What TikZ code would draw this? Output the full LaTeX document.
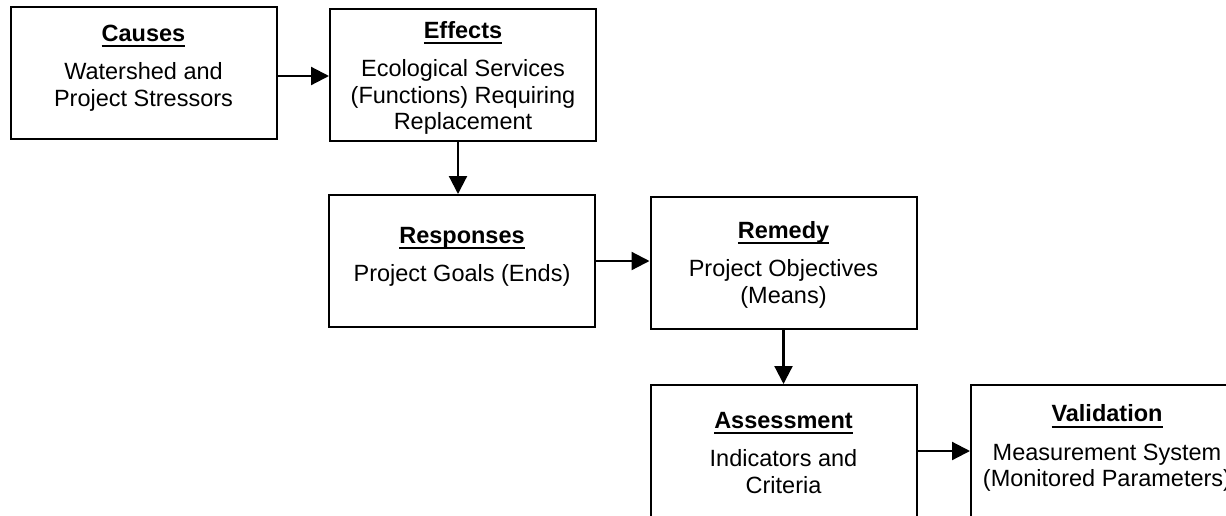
\documentclass[tikz,border=0pt]{standalone}
\usepackage{fontspec}
\setmainfont{Liberation Sans}
\usepackage{tikz}
\usetikzlibrary{arrows.meta,positioning}
\newcommand{\boxtitle}[1]{%
  \setbox0\hbox{\bfseries #1}%
  \rlap{\rule[-3pt]{\wd0}{1.1pt}}\box0}

\begin{document}
\begin{tikzpicture}[
  x=0.5pt, y=-0.5pt,
  block/.style={
    draw=black,
    line width=1pt,
    minimum width=133pt,
    minimum height=66pt,
    inner sep=0pt
  },
  blocktext/.style={
    align=center,
    inner sep=0pt,
    font=\fontsize{11.75pt}{13.25pt}\selectfont
  },
  connector/.style={
    -{Triangle[length=9pt,width=9pt]},
    line width=1.1pt
  }
]
\useasboundingbox (0,0) rectangle (1226,515);
\clip (0,0) rectangle (1226,515);

\node[block] (causes) at (143.5,73) {};
\node[blocktext, below=9.25pt of causes.north] (causes-text) {%
  \boxtitle{Causes}\\[6pt]
  Watershed and\\ Project Stressors};

\node[block] (effects) at (463,74.5) {};
\node[blocktext, below=6.75pt of effects.north] (effects-text) {%
  \boxtitle{Effects}\\[6pt]
  Ecological Services\\ (Functions) Requiring\\ Replacement};

\node[block] (responses) at (462,261) {};
\node[blocktext, below=16.25pt of responses.north] (responses-text) {%
  \boxtitle{Responses}\\[6pt]
  Project Goals (Ends)};

\node[block] (remedy) at (783.5,262.5) {};
\node[blocktext, below=12.75pt of remedy.north] (remedy-text) {%
  \boxtitle{Remedy}\\[6pt]
  Project Objectives\\ (Means)};

\node[block] (assessment) at (783.5,451) {};
\node[blocktext, below=13.75pt of assessment.north] (assessment-text) {%
  \boxtitle{Assessment}\\[6pt]
  Indicators and\\ Criteria};

\node[block] (validation) at (1104,451) {};
\node[blocktext, below=10.25pt of validation.north, xshift=1.5pt] (validation-text) {%
  \boxtitle{Validation}\\[6pt]
  Measurement System\\ (Monitored Parameters)};

\coordinate (causes-out) at ([yshift=-1.5pt]causes.east);
\coordinate (effects-out) at ([xshift=-2.5pt]effects.south);

\draw[connector] (causes-out) -- (causes-out -| effects.west);
\draw[connector] (effects-out) -- (effects-out |- responses.north);
\draw[connector] (responses.east) -- (responses.east -| remedy.west);
\draw[connector] (remedy.south) -- (assessment.north);
\draw[connector] (assessment.east) -- (validation.west);
\end{tikzpicture}
\end{document}
